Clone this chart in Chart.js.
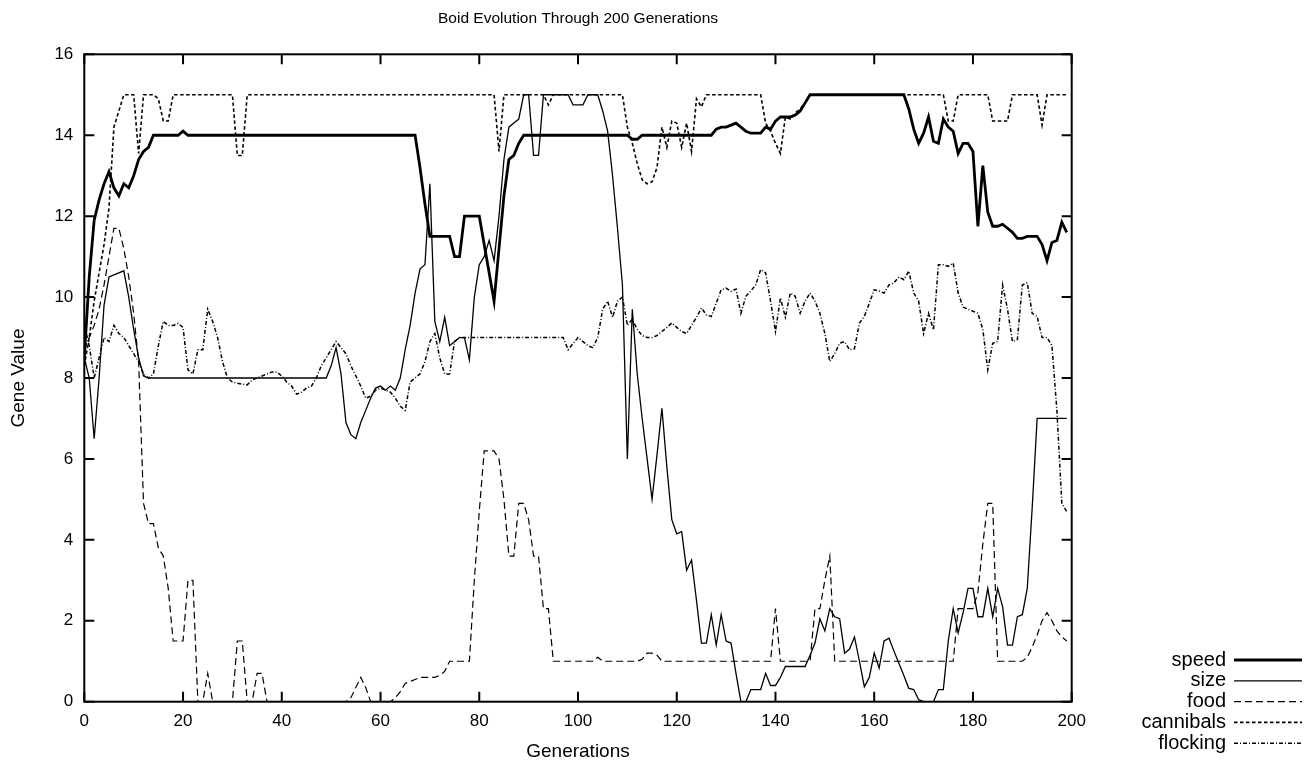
<!DOCTYPE html>
<html>
<head>
<meta charset="utf-8">
<script src="https://cdn.jsdelivr.net/npm/chart.js@4.4.1/dist/chart.umd.min.js"></script>
<style>
html,body{margin:0;padding:0;background:#fff;}
#wrap{width:1304px;height:769px;position:relative;}
</style>
</head>
<body>
<div id="wrap"><canvas id="c" width="1304" height="769"></canvas></div>
<script>
const chartTitle = 'Boid Evolution Through 200 Generations';
const xAxisTitle = 'Generations';
const yAxisTitle = 'Gene Value';
const seriesNames = ['speed', 'size', 'food', 'cannibals', 'flocking'];
const xTicks = [0, 20, 40, 60, 80, 100, 120, 140, 160, 180, 200];
const yTicks = [0, 2, 4, 6, 8, 10, 12, 14, 16];

const speed = [
  8.5,10.5,11.9,12.4,12.8,13.1,12.7,12.5,12.8,12.7,
  13.0,13.4,13.6,13.7,14,14,14,14,14,14,
  14.1,14,14,14,14,14,14,14,14,14,
  14,14,14,14,14,14,14,14,14,14,
  14,14,14,14,14,14,14,14,14,14,
  14,14,14,14,14,14,14,14,14,14,
  14,14,14,14,14,14,14,14,13.2,12.3,
  11.5,11.5,11.5,11.5,11.5,11,11,12,12,12,
  12,11.3,10.6,9.9,11.2,12.5,13.4,13.5,13.8,14,
  14,14,14,14,14,14,14,14,14,14,
  14,14,14,14,14,14,14,14,14,14,
  14,13.9,13.9,14,14,14,14,14,14,14,
  14,14,14,14,14,14,14,14,14.15,14.2,
  14.2,14.25,14.3,14.2,14.1,14.05,14.05,14.05,14.2,14.15,
  14.35,14.45,14.45,14.45,14.5,14.6,14.8,15,15,15,
  15,15,15,15,15,15,15,15,15,15,
  15,15,15,15,15,15,15,14.65,14.15,13.8,
  14.05,14.45,13.85,13.8,14.4,14.2,14.1,13.55,13.8,13.8,
  13.6,11.75,13.25,12.1,11.75,11.75,11.8,11.7,11.6,11.45,
  11.45,11.5,11.5,11.5,11.3,10.9,11.35,11.4,11.85,11.6
];

const size = [
  8.5,8.0,6.5,8.0,9.8,10.5,10.55,10.6,10.65,10.0,
  9.2,8.5,8.05,8,8,8,8,8,8,8,
  8,8,8,8,8,8,8,8,8,8,
  8,8,8,8,8,8,8,8,8,8,
  8,8,8,8,8,8,8,8,8,8,
  8.3,8.75,8.1,6.9,6.6,6.5,6.9,7.2,7.5,7.75,
  7.8,7.7,7.8,7.7,8.0,8.7,9.3,10.1,10.7,10.8,
  12.8,9.4,8.9,9.5,8.8,8.9,9.0,9.0,8.45,10.0,
  10.8,11.0,11.4,10.9,12.0,13.4,14.2,14.3,14.4,15,
  15,13.5,13.5,15,15,15,15,15,15,14.75,
  14.75,14.75,15,15,15,14.6,14.1,13.0,11.7,10.3,
  6.0,9.7,8.1,7.0,6.0,5.0,6.1,7.25,5.8,4.5,
  4.15,4.2,3.25,3.5,2.5,1.45,1.45,2.15,1.4,2.15,
  1.5,1.45,0.7,0,0,0.3,0.3,0.3,0.7,0.4,
  0.4,0.6,0.87,0.87,0.87,0.87,0.87,1.15,1.45,2.05,
  1.75,2.3,2.1,2.05,1.2,1.3,1.6,1.0,0.37,0.6,
  1.2,0.83,1.5,1.57,1.25,0.95,0.65,0.33,0.3,0.05,
  0,0,0,0.3,0.3,1.5,2.3,1.7,2.2,2.8,
  2.8,2.1,2.1,2.8,2.1,2.8,2.35,1.4,1.4,2.1,
  2.15,2.8,4.8,7,7,7,7,7,7,7
];

const food = [
  8.7,9.0,9.3,9.7,10.3,11.0,11.7,11.7,11.2,10.5,
  9.6,8.4,4.9,4.4,4.4,3.8,3.6,2.8,1.5,1.5,
  1.5,3.0,3.0,0,0,0.7,0,0,0,0,
  0,1.5,1.5,0,0,0.7,0.7,0,0,0,
  0,0,0,0,0,0,0,0,0,0,
  0,0,0,0,0.1,0.35,0.6,0.35,0,0,
  0,0,0,0.1,0.25,0.45,0.5,0.55,0.6,0.6,
  0.6,0.6,0.65,0.75,1,1,1,1,1,3.0,
  4.7,6.2,6.2,6.2,6.0,5.0,3.6,3.6,4.9,4.9,
  4.5,3.6,3.6,2.3,2.3,1,1,1,1,1,
  1,1,1,1,1.1,1,1,1,1,1,
  1,1,1,1.05,1.2,1.2,1.15,1,1,1,
  1,1,1,1,1,1,1,1,1,1,
  1,1,1,1,1,1,1,1,1,1,
  2.3,1,1,1,1,1,1,1,2.3,2.3,
  3.0,3.6,1,1,1,1,1,1,1,1,
  1,1,1,1,1,1,1,1,1,1,
  1,1,1,1,1,1,1,2.3,2.3,2.3,
  2.3,2.7,3.9,4.9,4.9,1,1,1,1,1,
  1,1.1,1.35,1.65,2.0,2.2,2.0,1.75,1.6,1.5
];

const cannibals = [
  8.3,9.0,9.9,10.6,11.3,12.2,14.2,14.6,15,15,
  15,13.55,15,15,15,14.9,14.35,14.35,15,15,
  15,15,15,15,15,15,15,15,15,15,
  15,13.5,13.5,15,15,15,15,15,15,15,
  15,15,15,15,15,15,15,15,15,15,
  15,15,15,15,15,15,15,15,15,15,
  15,15,15,15,15,15,15,15,15,15,
  15,15,15,15,15,15,15,15,15,15,
  15,15,15,15,13.6,15,15,15,15,15,
  15,15,15,15,14.75,15,15,15,15,15,
  15,15,15,15,15,15,15,15,15,15,
  14.2,13.8,13.3,12.9,12.8,12.85,13.2,14.2,13.7,14.35,
  14.3,13.7,14.3,13.6,14.9,14.7,15,15,15,15,
  15,15,15,15,15,15,15,15,14.3,14.1,
  13.8,13.55,14.45,14.4,14.55,14.65,14.8,15,15,15,
  15,15,15,15,15,15,15,15,15,15,
  15,15,15,15,15,15,15,15,15,15,
  15,15,15,15,15,14.35,14.35,15,15,15,
  15,15,15,15,14.35,14.35,14.35,14.35,15,15,
  15,15,15,15,14.25,15,15,15,15,15
];

const flocking = [
  9.3,8.8,8.0,8.5,9.0,8.9,9.3,9.1,9.0,8.8,
  8.6,8.4,8.1,8.0,8.1,8.8,9.4,9.3,9.3,9.35,
  9.25,8.2,8.1,8.7,8.7,9.7,9.4,9.0,8.4,8.0,
  7.9,7.87,7.85,7.83,7.95,8.0,8.05,8.1,8.15,8.15,
  8.05,7.9,7.8,7.6,7.65,7.75,7.8,8.0,8.3,8.5,
  8.7,8.9,8.75,8.6,8.3,8.05,7.8,7.5,7.55,7.7,
  7.75,7.7,7.65,7.5,7.3,7.2,7.9,8.0,8.1,8.4,
  8.9,9.1,8.5,8.1,8.1,8.9,9,9,9,9,
  9,9,9,9,9,9,9,9,9,9,
  9,9,9,9,9,9,9,9,8.7,8.85,
  9.0,8.9,8.8,8.75,9.0,9.7,9.9,9.5,9.9,10.0,
  9.3,9.45,9.2,9.05,9.0,9.0,9.05,9.15,9.25,9.36,
  9.25,9.15,9.1,9.3,9.5,9.73,9.56,9.52,9.85,10.18,
  10.22,10.14,10.2,9.6,10.02,10.15,10.3,10.68,10.6,9.9,
  9.15,9.98,9.5,10.1,10.02,9.6,9.9,10.1,9.9,9.6,
  9.1,8.41,8.6,8.86,8.9,8.7,8.72,9.36,9.52,9.85,
  10.18,10.15,10.1,10.3,10.35,10.5,10.43,10.64,10.1,9.9,
  9.1,9.6,9.19,10.8,10.8,10.76,10.84,10.1,9.75,9.7,
  9.65,9.6,9.2,8.2,8.86,8.9,10.3,9.7,8.9,8.95,
  10.3,10.35,9.6,9.52,9.0,9.0,8.8,7.2,4.9,4.7
];

const seriesValues = [speed, size, food, cannibals, flocking];
const seriesWidths = [2.8, 1.3, 1.2, 1.6, 1.5];
const seriesDashes = [[], [], [7, 4], [3.5, 2.5], [4, 2, 1, 2]];

const FONT = '"Liberation Sans", Arial, Helvetica, sans-serif';

const datasets = seriesNames.map((name, i) => ({
  label: name,
  data: seriesValues[i].map((v, g) => ({x: g, y: v})),
  borderColor: '#000',
  backgroundColor: '#000',
  borderWidth: seriesWidths[i],
  borderDash: seriesDashes[i],
  pointRadius: 0,
  tension: 0,
  fill: false
}));

const frameTicks = {
  id: 'frameTicks',
  afterDatasetsDraw(chart) {
    const {ctx, chartArea: a, scales: {x, y}} = chart;
    ctx.save();
    ctx.strokeStyle = '#000';
    ctx.lineWidth = 2;
    ctx.setLineDash([]);
    ctx.beginPath();
    xTicks.forEach(v => {
      const px = x.getPixelForValue(v);
      ctx.moveTo(px, a.bottom); ctx.lineTo(px, a.bottom - 10);
      ctx.moveTo(px, a.top); ctx.lineTo(px, a.top + 10);
    });
    yTicks.forEach(v => {
      const py = y.getPixelForValue(v);
      ctx.moveTo(a.left, py); ctx.lineTo(a.left + 10, py);
      ctx.moveTo(a.right, py); ctx.lineTo(a.right - 10, py);
    });
    ctx.stroke();
    ctx.strokeRect(a.left, a.top, a.right - a.left, a.bottom - a.top);
    ctx.restore();
  }
};

const gpLegend = {
  id: 'gpLegend',
  afterDraw(chart) {
    const ctx = chart.ctx;
    ctx.save();
    ctx.font = '20px ' + FONT;
    ctx.textAlign = 'right';
    ctx.textBaseline = 'middle';
    ctx.fillStyle = '#000';
    chart.data.datasets.forEach((ds, i) => {
      const yy = 660 + i * 20.8;
      ctx.fillText(ds.label, 1226, yy);
      ctx.strokeStyle = '#000';
      ctx.lineWidth = ds.borderWidth;
      ctx.setLineDash(ds.borderDash || []);
      ctx.beginPath();
      ctx.moveTo(1234, yy);
      ctx.lineTo(1302, yy);
      ctx.stroke();
    });
    ctx.restore();
  }
};

Chart.defaults.color = '#000';
Chart.defaults.font.family = FONT;

new Chart(document.getElementById('c'), {
  type: 'line',
  data: {datasets},
  options: {
    responsive: false,
    animation: false,
    devicePixelRatio: 1,
    layout: {padding: {top: 0, right: 232.3, bottom: 0, left: 0}},
    plugins: {
      legend: {display: false},
      tooltip: {enabled: false},
      title: {
        display: true,
        text: chartTitle,
        fullSize: false,
        color: '#000',
        font: {size: 15.5, weight: 'normal', family: FONT},
        padding: {top: 9.5, bottom: 26.2}
      }
    },
    scales: {
      x: {
        type: 'linear',
        min: 0, max: 200,
        afterBuildTicks: s => { s.ticks = xTicks.map(v => ({value: v})); },
        afterFit: s => { s.height = 67.3; },
        grid: {display: false, drawTicks: false},
        border: {display: false},
        ticks: {padding: 9, font: {size: 17}, color: '#000', maxRotation: 0},
        title: {display: true, text: xAxisTitle, font: {size: 19}, color: '#000', padding: {top: 0, bottom: 6}}
      },
      y: {
        type: 'linear',
        min: 0, max: 16,
        afterBuildTicks: s => { s.ticks = yTicks.map(v => ({value: v})); },
        afterFit: s => { s.width = 84.3; },
        grid: {display: false, drawTicks: false},
        border: {display: false},
        ticks: {padding: 11, font: {size: 17}, color: '#000'},
        title: {display: true, text: yAxisTitle, font: {size: 19}, color: '#000', padding: {top: 7, bottom: 0}}
      }
    }
  },
  plugins: [frameTicks, gpLegend]
});
</script>
</body>
</html>
